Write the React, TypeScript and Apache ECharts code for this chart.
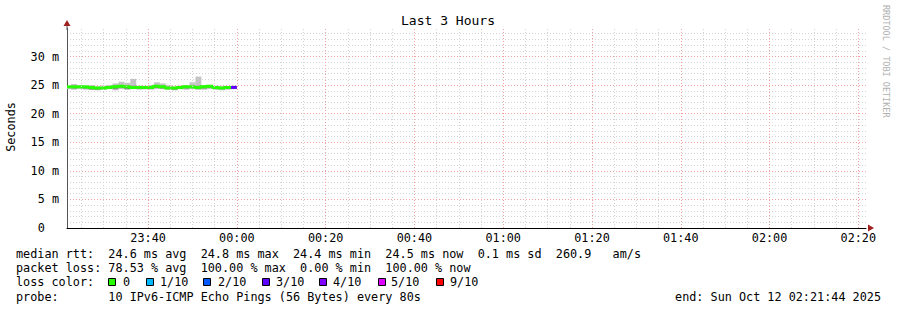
import React, { useEffect, useRef } from "react";
import * as echarts from "echarts";

const FONT = "'DejaVu Sans Mono', monospace";
const STEP_MS = 80 * 1000;
const chartStart = new Date(2025, 9, 11, 23, 21, 44).getTime();
const chartEnd = new Date(2025, 9, 12, 2, 21, 44).getTime();
const firstStepEnd = new Date(2025, 9, 11, 23, 22, 40).getTime();

// time ticks (20 min major, 5 min minor)
const majorTicks = [
  new Date(2025, 9, 11, 23, 40).getTime(),
  new Date(2025, 9, 12, 0, 0).getTime(),
  new Date(2025, 9, 12, 0, 20).getTime(),
  new Date(2025, 9, 12, 0, 40).getTime(),
  new Date(2025, 9, 12, 1, 0).getTime(),
  new Date(2025, 9, 12, 1, 20).getTime(),
  new Date(2025, 9, 12, 1, 40).getTime(),
  new Date(2025, 9, 12, 2, 0).getTime(),
  new Date(2025, 9, 12, 2, 20).getTime(),
];
const minorTicks: number[] = [];
for (let t = new Date(2025, 9, 11, 23, 25).getTime(); t < chartEnd; t += 5 * 60 * 1000) {
  if (!majorTicks.includes(t)) minorTicks.push(t);
}

// per 80 s step (values in ms)
const medianMs = [24.7, 24.7, 24.7, 24.7, 24.6, 24.5, 24.5, 24.6, 24.7, 24.8, 24.7, 24.6, 24.6, 24.6, 24.6, 24.8, 24.7, 24.5, 24.5, 24.6, 24.7, 24.7, 24.6, 24.7, 24.8, 24.6, 24.5, 24.6, 24.6];
const smokeMaxMs = [24.9, 25.2, 25.0, 24.9, 25.0, 24.8, 24.9, 25.0, 25.3, 25.6, 25.4, 26.1, 24.9, 24.8, 25.0, 25.5, 25.3, 25.0, 24.8, 24.9, 25.0, 25.5, 26.5, 25.0, 25.0, 24.9, 24.8, 24.8, 24.9];
const smokeHighMs = [24.8, 24.9, 24.8, 24.8, 24.8, 24.6, 24.6, 24.8, 24.9, 24.9, 24.9, 24.9, 24.7, 24.7, 24.8, 24.9, 24.9, 24.7, 24.6, 24.7, 24.8, 24.9, 24.9, 24.9, 24.9, 24.7, 24.6, 24.7, 24.7];
const smokeLowMs = [24.5, 24.4, 24.5, 24.4, 24.2, 24.2, 24.3, 24.4, 24.3, 24.5, 24.3, 24.4, 24.4, 24.3, 24.4, 24.5, 24.4, 24.3, 24.2, 24.4, 24.4, 24.5, 24.3, 24.4, 24.5, 24.3, 24.3, 24.4, 24.4];
const smokeMinMs = [24.3, 24.2, 24.3, 24.2, 24.2, 24.1, 24.2, 24.3, 24.1, 24.3, 24.2, 24.3, 24.2, 24.3, 24.2, 24.3, 24.3, 24.2, 24.1, 24.3, 24.2, 24.3, 24.2, 24.2, 24.3, 24.2, 24.1, 24.2, 24.3];
const lossCount = [0, 0, 0, 0, 0, 0, 0, 0, 0, 0, 0, 0, 0, 0, 0, 0, 0, 0, 0, 0, 0, 0, 0, 0, 0, 0, 0, 0, 3];

const lossLabels = ["0", "1/10", "2/10", "3/10", "4/10", "5/10", "9/10"];
const lossThresholds = [0, 1, 2, 3, 4, 5, 9];
const lossColors = ["#26ff00", "#00b8ff", "#0059ff", "#5e00ff", "#7e00ff", "#dd00ff", "#ff0000"];

const statLines = [
  "median rtt:  24.6 ms avg  24.8 ms max  24.4 ms min  24.5 ms now  0.1 ms sd  260.9   am/s",
  "packet loss: 78.53 % avg  100.00 % max  0.00 % min  100.00 % now",
];
const probeText = "probe:       10 IPv6-ICMP Echo Pings (56 Bytes) every 80s";
const endText = "end: Sun Oct 12 02:21:44 2025";

const lossColorIndex = (n: number) => {
  let idx = 0;
  lossThresholds.forEach((t, i) => {
    if (n >= t) idx = i;
  });
  return idx;
};

const pad = (n: number) => (n < 10 ? "0" + n : "" + n);
const fmtTime = (v: number) => {
  const d = new Date(v);
  return `${pad(d.getHours())}:${pad(d.getMinutes())}`;
};

const MAJOR = "#f2a0a0";
const MINOR = "#d4d4d4";

export default function App() {
  const ref = useRef<HTMLDivElement>(null);
  useEffect(() => {
    document.body.style.margin = "0";
    const chart = echarts.init(ref.current!, null, { renderer: "svg" });

    const smokeData = medianMs.map((_, i) => [
      firstStepEnd + i * STEP_MS,
      smokeMinMs[i],
      smokeLowMs[i],
      smokeHighMs[i],
      smokeMaxMs[i],
    ]);
    const medData = medianMs.map((m, i) => [
      firstStepEnd + i * STEP_MS,
      m,
      i > 0 ? medianMs[i - 1] : m,
      lossColorIndex(lossCount[i]),
    ]);

    const legendFont = `11.8px ${FONT}`;
    const boxX = [108, 146, 203, 262, 319, 378, 436];
    const labX = [123, 160, 218, 276, 333, 391, 450];
    const graphic: any[] = [
      { type: "text", x: 448, y: 20, style: { text: "Last 3 Hours", font: `13px ${FONT}`, fill: "#000", textAlign: "center", textVerticalAlign: "middle" } },
      { type: "text", x: 11, y: 127, rotation: Math.PI / 2, style: { text: "Seconds", font: `11.8px ${FONT}`, fill: "#000", textAlign: "center", textVerticalAlign: "middle" } },
      { type: "text", x: 886, y: 5, rotation: -Math.PI / 2, style: { text: "RRDTOOL / TOBI OETIKER", font: `8.5px ${FONT}`, fill: "#b0b0b0", textAlign: "left", textVerticalAlign: "middle" } },
      { type: "line", shape: { x1: 67, y1: 22, x2: 67, y2: 30 }, style: { stroke: "#555", lineWidth: 1 } },
      { type: "polygon", shape: { points: [[63.5, 26], [70.5, 26], [67, 20]] }, style: { fill: "#a02020" } },
      { type: "polygon", shape: { points: [[868, 224.5], [868, 231.5], [874, 228]] }, style: { fill: "#a02020" } },
      { type: "text", x: 16, y: 254, style: { text: statLines[0], font: legendFont, fill: "#000", textVerticalAlign: "middle" } },
      { type: "text", x: 16, y: 268, style: { text: statLines[1], font: legendFont, fill: "#000", textVerticalAlign: "middle" } },
      { type: "text", x: 16, y: 282, style: { text: "loss color:", font: legendFont, fill: "#000", textVerticalAlign: "middle" } },
      { type: "text", x: 16, y: 297, style: { text: probeText, font: legendFont, fill: "#000", textVerticalAlign: "middle" } },
      { type: "text", x: 881, y: 297, style: { text: endText, font: legendFont, fill: "#000", textAlign: "right", textVerticalAlign: "middle" } },
    ];
    lossLabels.forEach((lab, i) => {
      graphic.push({ type: "rect", shape: { x: boxX[i] + 0.5, y: 278.5, width: 7, height: 7 }, style: { fill: lossColors[i], stroke: "#000", lineWidth: 1 } });
      graphic.push({ type: "text", x: labX[i], y: 282, style: { text: lab, font: legendFont, fill: "#000", textVerticalAlign: "middle" } });
    });

    const gridLineSeries = (ticks: number[], color: string, z: number) => ({
      type: "line",
      data: [],
      z,
      silent: true,
      markLine: {
        silent: true,
        symbol: ["none", "none"],
        label: { show: false },
        lineStyle: { color, type: [1, 2], width: 1 },
        data: ticks.map((t) => ({ xAxis: t })),
      },
    });

    chart.setOption({
      animation: false,
      backgroundColor: "#fff",
      grid: { left: 67, right: 31, top: 28, bottom: 82, containLabel: false },
      xAxis: {
        type: "value",
        min: chartStart,
        max: chartEnd,
        axisLine: { show: true, lineStyle: { color: "#000", width: 1 } },
        axisTick: { show: false },
        axisLabel: {
          customValues: majorTicks,
          formatter: (v: number) => fmtTime(v),
          fontFamily: FONT,
          fontSize: 11.8,
          color: "#000",
          margin: 4,
        },
        splitLine: { show: false },
      },
      yAxis: {
        type: "value",
        min: 0,
        max: 35,
        interval: 5,
        axisLine: { show: true, lineStyle: { color: "#555", width: 1 } },
        axisTick: { show: false },
        minorTick: { show: false, splitNumber: 5 },
        axisLabel: {
          formatter: (v: number) => (v > 30 ? "" : v === 0 ? "0  " : `${v} m`),
          fontFamily: FONT,
          fontSize: 11.8,
          color: "#000",
          margin: 8,
        },
        splitLine: { show: true, lineStyle: { color: [MAJOR, MAJOR, MAJOR, MAJOR, MAJOR, MAJOR, MAJOR, "rgba(0,0,0,0)"], type: [1, 2], width: 1 } },
        minorSplitLine: { show: true, lineStyle: { color: MINOR, type: [1, 2], width: 1 } },
      },
      series: [
        gridLineSeries(minorTicks, MINOR, 0),
        gridLineSeries(majorTicks, MAJOR, 1),
        {
          type: "custom",
          clip: true,
          z: 3,
          data: smokeData,
          encode: { x: 0, y: [1, 4] },
          renderItem: (_p: any, api: any) => {
            const tEnd = api.value(0);
            const tStart = tEnd - STEP_MS;
            const a = api.coord([tStart, api.value(4)]);
            const b = api.coord([tEnd, api.value(1)]);
            const c = api.coord([tStart, api.value(3)]);
            const d = api.coord([tEnd, api.value(2)]);
            return {
              type: "group",
              children: [
                { type: "rect", shape: { x: a[0], y: a[1], width: b[0] - a[0], height: b[1] - a[1] }, style: { fill: "#c4c4c4" } },
                { type: "rect", shape: { x: c[0], y: c[1], width: d[0] - c[0], height: d[1] - c[1] }, style: { fill: "#8a8a8a" } },
              ],
            };
          },
        },
        {
          type: "custom",
          clip: true,
          z: 4,
          data: medData,
          encode: { x: 0, y: 1 },
          renderItem: (_p: any, api: any) => {
            const tEnd = api.value(0);
            const tStart = tEnd - STEP_MS;
            const p0 = api.coord([tStart, api.value(2)]);
            const p1 = api.coord([tStart, api.value(1)]);
            const p2 = api.coord([tEnd, api.value(1)]);
            return {
              type: "polyline",
              shape: { points: [p0, p1, p2] },
              style: { stroke: lossColors[api.value(3)], lineWidth: 3, fill: "none" },
            };
          },
        },
      ],
      graphic,
    });
    return () => chart.dispose();
  }, []);
  return <div ref={ref} style={{ width: 897, height: 310 }} />;
}
